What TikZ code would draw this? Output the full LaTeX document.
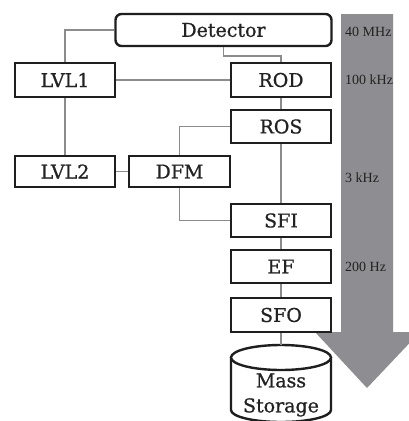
\documentclass[tikz,border=0pt]{standalone}
\usepackage{fontspec}
\setmainfont{DejaVu Serif}
\newfontfamily\boxfont[FakeBold=0.8]{DejaVu Serif}
\newfontfamily\ratefont{Liberation Serif}
\definecolor{boxline}{HTML}{1E1E1E}
\definecolor{conn}{HTML}{8C8C8C}
\definecolor{flow}{HTML}{8E8E92}
\definecolor{txt}{HTML}{222222}
\begin{document}
\begin{tikzpicture}[x=1pt,y=-1pt,
  blk/.style={draw=boxline, line width=2.4pt, fill=white, inner sep=0pt,
    minimum width=100pt, minimum height=33pt, text=txt,
    font=\boxfont\fontsize{19}{22}\selectfont},
  link/.style={draw=conn, line width=1.6pt},
  rate/.style={anchor=west, inner sep=0pt, text=txt, font=\ratefont\fontsize{14}{16}\selectfont}]
\useasboundingbox (0,0) rectangle (409,421);
\fill[white] (0,0) rectangle (409,421);
% flow arrow
\begin{scope}
\clip (0,0) rectangle (409,421);
\fill[flow] (341,14) -- (393,14) -- (393,332) -- (420,332) -- (367,388) -- (315,332) -- (341,332) -- cycle;
\end{scope}
\node[rate] (r1) at (345,32) {40 MHz};
\node[rate] (r2) at (345,80) {100 kHz};
\node[rate] (r3) at (345,178) {3 kHz};
\node[rate] (r4) at (345,267) {200 Hz};
\coordinate (cyltop) at (281,345);
% boxes
\node[blk, rounded corners=6pt, minimum width=216pt, minimum height=32pt] (det) at (223.5,30) {Detector};
\node[blk, minimum height=34pt] (lvl1) at (65,80) {LVL1};
\node[blk, minimum height=34pt] (rod) at (281,80) {ROD};
\node[blk] (ros) at (281,126.5) {ROS};
\node[blk, minimum height=31pt] (lvl2) at (65,171.5) {LVL2};
\node[blk, minimum height=31pt, minimum width=101pt] (dfm) at (179.5,171.5) {DFM};
\node[blk] (sfi) at (281,220.5) {SFI};
\node[blk] (ef) at (281,266.5) {EF};
\node[blk, minimum height=34pt] (sfo) at (281,315) {SFO};
% cylinder
\filldraw[fill=white, draw=boxline, line width=2.4pt] (231,357.5) -- (231,410) arc[start angle=180, end angle=360, x radius=50pt, y radius=12pt] -- (331,357.5);
\draw[draw=boxline, line width=2.4pt, fill=white] (281,357.5) ellipse [x radius=50pt, y radius=12.5pt];
\node[text=txt, font=\boxfont\fontsize{19}{25}\selectfont, align=center, inner sep=0pt] (mass) at (281,395) {Mass\\Storage};
% links
\draw[link] (det.west) -| (lvl1.north);
\draw[link] (det.south) -- ++(0,9) -| (rod.north);
\draw[link] (lvl1.east) -- (rod.west);
\draw[link] (lvl1.south) -- (lvl2.north);
\draw[link] (rod.south) -- (ros.north);
\draw[link] (ros.west) -| (dfm.north);
\draw[link] (lvl2.east) -- (dfm.west);
\draw[link] (ros.south) -- (sfi.north);
\draw[link] (dfm.south) |- (sfi.west);
\draw[link] (sfi.south) -- (ef.north);
\draw[link] (ef.south) -- (sfo.north);
\draw[link] (sfo.south) -- (cyltop);
\end{tikzpicture}
\end{document}
